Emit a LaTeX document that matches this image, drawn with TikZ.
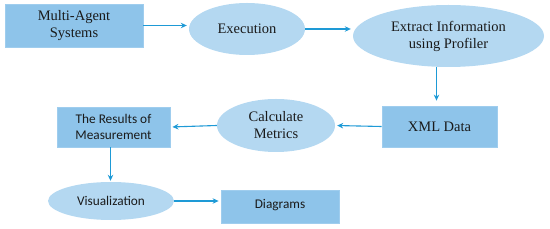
\documentclass[tikz,border=0pt]{standalone}
\usepackage{fontspec}
\setmainfont{Liberation Serif}
\newfontfamily\timesf{Liberation Serif}
\newfontfamily\calib{Carlito}
\usetikzlibrary{shapes.geometric,arrows.meta}
\definecolor{boxfill}{HTML}{8EC4EA}
\definecolor{boxline}{HTML}{9FCDEE}
\definecolor{ellfill}{HTML}{B4D8F1}
\definecolor{arrowc}{HTML}{1E9AD6}
\definecolor{txt}{HTML}{1A1A1A}
\tikzset{
  boxnode/.style={rectangle, fill=boxfill, draw=boxline, line width=0.8pt, inner sep=0pt, align=center, text=txt},
  ellnode/.style={ellipse, fill=ellfill, draw=none, inner sep=0pt, align=center, text=txt},
  serifsty/.style={font=\timesf\fontsize{14.5}{17}\selectfont},
  sanssty/.style={font=\calib\fontsize{13.3}{15.5}\selectfont},
  conn/.style={draw=arrowc, line width=1.1pt, -{Stealth[length=6pt,width=5.5pt]}, shorten >=2pt}
}
\begin{document}
\begin{tikzpicture}[x=1pt,y=-1pt]
\useasboundingbox (0,0) rectangle (550,229);
\node[boxnode,serifsty,minimum width=138pt,minimum height=43pt] (mas) at (74,25.5) {Multi-Agent\\Systems};
\node[ellnode,serifsty,minimum width=116pt,minimum height=52pt] (exec) at (247,29) {Execution};
\node[ellnode,serifsty,minimum width=191pt,minimum height=62pt] (extract) at (448.5,36) {Extract Information\\using Profiler};
\node[boxnode,serifsty,minimum width=115pt,minimum height=41pt] (xml) at (439.5,126.5) {XML Data};
\node[ellnode,serifsty,minimum width=118pt,minimum height=53pt] (calc) at (276,125.5) {Calculate\\Metrics};
\node[boxnode,sanssty,minimum width=113pt,minimum height=40pt] (res) at (113.5,127) {The Results of\\Measurement};
\node[ellnode,sanssty,minimum width=126pt,minimum height=38pt] (vis) at (111,201) {Visualization};
\node[boxnode,sanssty,minimum width=118pt,minimum height=33pt] (diag) at (280,206.5) {\raisebox{5pt}{Diagrams}};
\draw[conn] (mas.east) -- (mas.east -| exec.west);
\draw[conn] (exec.east) -- (exec.east -| extract.west);
\draw[conn, shorten >=5pt] ([xshift=-3pt]xml.north |- extract.south) -- ([xshift=-3pt]xml.north);
\draw[conn] (xml.west) -- (calc.east);
\draw[conn] (calc.west) -- (res.east);
\draw[conn, shorten >=1pt] ([xshift=-3pt]res.south) -- ([xshift=-3pt]res.south |- vis.north);
\draw[conn] (vis.east) -- (vis.east -| diag.west);
\end{tikzpicture}
\end{document}
